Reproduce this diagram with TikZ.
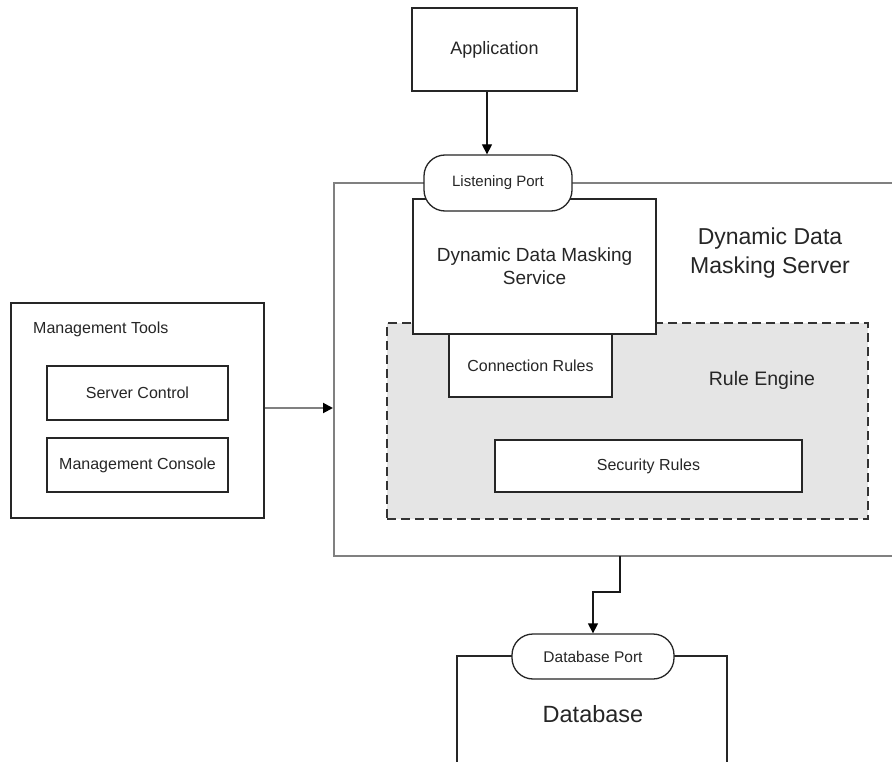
\documentclass[tikz,border=0pt]{standalone}
\usepackage{fontspec}
\setmainfont{Liberation Sans}
\usetikzlibrary{arrows.meta}
\begin{document}
\begin{tikzpicture}[x=1pt,y=-1pt,
  box/.style={draw=black!85,line width=1.3pt,fill=white,inner sep=0pt,text=black!85},
  port/.style={box,rounded corners=21pt},
  lbl/.style={inner sep=0pt,text=black!85,align=center},
  arr/.style={draw=black!90,line width=1.3pt,-{Triangle[length=10pt,width=10pt,color=black]}}]
\clip (0,0) rectangle (892,762);
\fill[white] (0,0) rectangle (892,762);
% server
\node[draw=black!50,line width=2pt,minimum width=580pt,minimum height=373pt,inner sep=0pt] (server) at (624,369.5) {};
\node[lbl,font=\fontsize{23}{29}\selectfont] (srvtext) at (770,253) {Dynamic Data\\Masking Server};
% rule engine
\node[draw=black!80,fill=black!10,line width=1.3pt,dash pattern=on 9pt off 5pt,minimum width=481pt,minimum height=196pt,inner sep=0pt] (engine) at (627.5,421) {};
\node[lbl,font=\fontsize{19.5}{23}\selectfont] (engtext) at (762,380) {Rule Engine};
% DDM service
\node[box,minimum width=243pt,minimum height=135pt,align=center,font=\fontsize{19}{23}\selectfont] (ddm) at (534.5,266.5) {Dynamic Data Masking\\Service};
\node[box,minimum width=163pt,minimum height=63pt,font=\fontsize{16}{19}\selectfont] (conn) at (530.5,365.5) {Connection Rules};
\node[box,minimum width=307pt,minimum height=52pt,font=\fontsize{16}{19}\selectfont] (sec) at (648.5,466) {Security Rules};
% listening port
\node[port,minimum width=148pt,minimum height=56pt,font=\fontsize{15}{18}\selectfont] (lport) at (498,183) {Listening Port};
% application
\node[box,minimum width=165pt,minimum height=83pt,font=\fontsize{18}{22}\selectfont] (app) at (494.5,49.5) {Application};
\draw[arr] ([xshift=-7.5pt]app.south) -- ([xshift=-7.5pt]app.south |- lport.north);
% management tools
\node[box,minimum width=253pt,minimum height=215pt] (mgmt) at (137.5,410.5) {};
\node[lbl,anchor=west,font=\fontsize{16}{19}\selectfont] (mgmttext) at (33,329) {Management Tools};
\node[box,minimum width=181pt,minimum height=54pt,font=\fontsize{16}{19}\selectfont] (sctl) at (137.5,393) {Server Control};
\node[box,minimum width=181pt,minimum height=54pt,font=\fontsize{16}{19}\selectfont] (mcon) at (137.5,465) {Management Console};
\draw[arr,draw=black!50,line width=2pt] ([yshift=2.5pt]mgmt.east) -- ([yshift=2.5pt]mgmt.east -| server.west);
% database
\node[box,minimum width=270pt,minimum height=150pt] (db) at (592,731) {};
\node[lbl,font=\fontsize{23.5}{28}\selectfont] (dbtext) at (593,714) {Database};
\node[port,minimum width=162pt,minimum height=45pt,font=\fontsize{15.5}{18}\selectfont] (dbport) at (593,656.5) {Database Port};
\coordinate (sbot) at (620,556);
\draw[arr] (sbot) -- ++(0,36) -| (dbport.north);
\end{tikzpicture}
\end{document}
